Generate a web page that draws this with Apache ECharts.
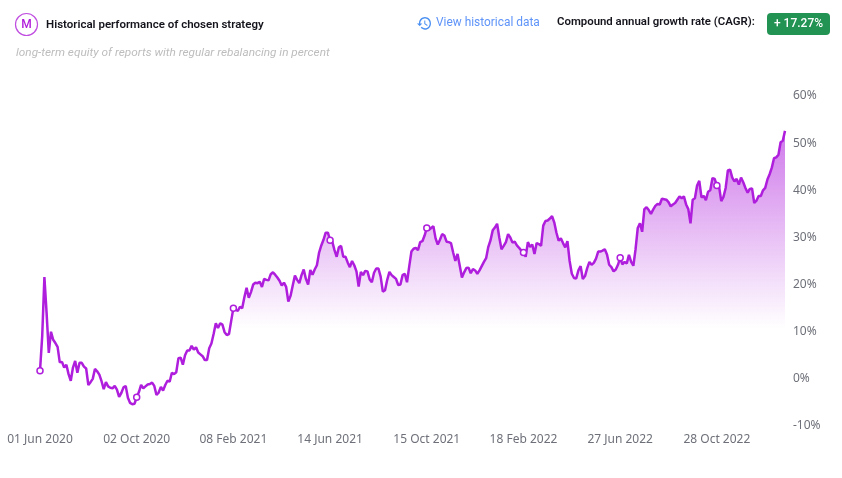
<!DOCTYPE html>
<html>
<head>
<meta charset="utf-8">
<style>
  html, body { margin: 0; padding: 0; background: #fff; }
  #chart { width: 842px; height: 478px; }
</style>
</head>
<body>
<div id="chart"></div>
<script src="https://cdn.jsdelivr.net/npm/echarts@6/dist/echarts.min.js"></script>
<script>
const tickLabels = ['01 Jun 2020', '02 Oct 2020', '08 Feb 2021', '14 Jun 2021', '15 Oct 2021', '18 Feb 2022', '27 Jun 2022', '28 Oct 2022']
const yearFirst = [
  1.7, 9, 21.6, 14, 5.5, 10, 8.3, 7.6, 6.8, 3.5, 3.6, 2.4, 3, 1, -0.4, 2.4, 3.8, 1.3, 3.4, 3.4, 2.6, 2.2,
  -1.3, -0.7, 0, 2.1, 1.6, 0.9, -0.5, -2.2, -0.7, -1.6, -1.9, -2, -1.5, -2.3, -3.8, -3, -1.8, -1.5, -4, -5.1, -5.4, -5.3,
  -3.9, -2.8, -1.3, -2, -1.6, -1.2, -1.1, -0.8, -1.5, -3.4, -2.9, -1.7, -2.5, -1.3, -0.4, -0.6, 1.3, 1, 1.4, 4.4, 4.5, 3,
  5, 6, 6, 7, 6.2, 6.7, 5.6, 5.2, 4.8, 4, 4, 6.5, 7.5, 9.5, 11.8, 10.8, 11.8, 11.5, 9.9, 9.3, 9.5, 12.3
]
const yearSecond = [
  15, 14.7, 14.4, 15.3, 15, 17.3, 19.3, 17.2, 18.4, 20, 20.4, 20.3, 20.6, 19.5, 21.2, 21, 20.9, 22.2, 22.6, 22.1, 21.5, 20.8,
  19.8, 20.4, 19.5, 16.4, 17.6, 19.8, 21.9, 21, 20.3, 22, 23.2, 21.2, 20, 23.1, 22.1, 23.2, 24.1, 26.8, 28.3, 29.5, 31, 31,
  29.4, 29.1, 27.3, 25.9, 27.9, 28.2, 25.9, 25.9, 24.7, 23.7, 25, 24.1, 22.8, 19.6, 22.7, 22, 22.9, 22.8, 21.1, 20.5, 22.5, 23.4,
  23.4, 21.7, 18.5, 18.8, 21, 22.7, 22, 21.6, 21.2, 19.9, 20, 22, 22.3, 20.5, 23.8, 27, 27.6, 27.8, 27.3, 29, 29.2, 30.4
]
const yearThird = [
  32, 31.6, 32, 32.4, 29.8, 28.5, 29.5, 30.7, 30.4, 29.1, 29, 28.8, 26.8, 25, 26.5, 24, 21.5, 22.6, 23.5, 23.6, 22.4, 23.3,
  23, 22.3, 23, 23.9, 24.8, 25.6, 28, 29.4, 31.5, 32.1, 32.9, 30, 27.5, 28.2, 29, 30.7, 30, 28.9, 29.1, 28.3, 27.8, 27.2,
  26.8, 25.9, 29, 28, 28.5, 26.5, 28.8, 28.6, 28.2, 32.5, 33.5, 33.6, 34, 34.5, 33.2, 31, 29.3, 29.8, 28.8, 27.9, 29.2, 25,
  22.3, 21.4, 21.3, 23, 23.9, 21.2, 21.8, 23.5, 24.8, 24.2, 24.6, 25.5, 27, 27, 27.2, 27.5, 26.4, 24.2, 23.7, 22.8, 23.2, 24.2
]
const yearLast = [
  25.7, 24.3, 24.8, 24.5, 26.3, 24.8, 24, 27.5, 32, 33, 31.2, 36, 36.4, 35.8, 35, 35.9, 36.7, 37.1, 37, 38.2, 38.1, 38,
  37.5, 36.6, 37, 37.3, 38, 38.7, 38.3, 38.7, 37, 36, 33, 38, 38.3, 41, 42, 38.5, 38.8, 37.9, 39.7, 40, 42.6, 42.4,
  41, 40.8, 37.7, 38.6, 40.5, 44.2, 44.4, 42.7, 41.9, 42.4, 41.2, 42.7, 41.7, 40.5, 39.5, 40.3, 40.4, 37.3, 37.8, 38.8, 38.8, 40,
  40.5, 42.3, 43.4, 44.8, 46.8, 47, 47.5, 50.2, 50.5, 52.6
]
const equity = [...yearFirst, ...yearSecond, ...yearThird, ...yearLast]

// one tick label every 44 samples
const TICK_STEP = 44
const PURPLE = '#ae1edc'
const categories = equity.map((v, i) => (i % TICK_STEP === 0 ? tickLabels[i / TICK_STEP] : ''))

const HISTORY_ICON = 'M13 3c-4.97 0-9 4.03-9 9H1l3.89 3.89.07.14L9 12H6c0-3.87 3.13-7 7-7s7 3.13 7 7-3.13 7-7 7c-1.93 0-3.68-.79-4.94-2.06l-1.42 1.42C8.27 19.99 10.51 21 13 21c4.97 0 9-4.03 9-9s-4.03-9-9-9zm-1 5v5l4.28 2.54.72-1.21-3.5-2.08V8H12z'
echarts.graphic.registerShape('historyIcon', echarts.graphic.extendPath(HISTORY_ICON, {}))

function label(x, y, text, font, fill, align) {
  return { type: 'text', x, y, style: { text, font, fill, align: align || 'left', verticalAlign: 'middle' } }
}

const chart = echarts.init(document.getElementById('chart'))
chart.setOption({
  animation: false,
  grid: { left: 40, right: 57, top: 96, bottom: 52 },
  xAxis: {
    type: 'category',
    boundaryGap: false,
    data: categories,
    axisLine: { show: false },
    axisTick: { show: false },
    splitLine: { show: false },
    axisLabel: {
      interval: TICK_STEP - 1,
      hideOverlap: false,
      margin: 8,
      fontFamily: 'Noto Sans',
      fontSize: 12,
      color: '#6e7079'
    }
  },
  yAxis: {
    type: 'value',
    position: 'right',
    min: -10,
    max: 60,
    interval: 10,
    splitLine: { show: false },
    axisLine: { show: false },
    axisTick: { show: false },
    axisLabel: { formatter: '{value}%', margin: 8, padding: [3, 0, 0, 0], fontFamily: 'Noto Sans', fontSize: 12, color: '#6e7079' }
  },
  series: [{
    type: 'line',
    data: equity,
    showAllSymbol: true,
    symbol: 'circle',
    symbolSize: (v, p) => (p.dataIndex % TICK_STEP === 0 ? 6 : 0),
    itemStyle: { color: '#fff', borderColor: PURPLE, borderWidth: 1.5 },
    lineStyle: { color: PURPLE, width: 2.5 },
    areaStyle: {
      origin: 'start',
      color: new echarts.graphic.LinearGradient(0, 0, 0, 1, [
        { offset: 0, color: 'rgba(174,30,220,0.85)' },
        { offset: 0.66, color: 'rgba(174,30,220,0.01)' },
        { offset: 0.67, color: 'rgba(174,30,220,0)' },
        { offset: 1, color: 'rgba(174,30,220,0)' }
      ])
    }
  }],
  graphic: [
    { type: 'circle', shape: { cx: 26.5, cy: 24.5, r: 11 }, style: { fill: '#fff', stroke: '#c04ee0', lineWidth: 1.2 } },
    label(26.5, 25, 'M', '500 12px Roboto', '#b01edb', 'center'),
    label(46, 25, 'Historical performance of chosen strategy', '600 11.5px Roboto', '#14141c'),
    label(16, 53, 'long-term equity of reports with regular rebalancing in percent', 'italic 11.8px Roboto', '#bdbdbd'),
    { type: 'historyIcon', x: 416.3, y: 15, scaleX: 0.667, scaleY: 0.7, style: { fill: '#4a90f2' } },
    label(436, 23, 'View historical data', '11.9px Roboto', '#5f94f8'),
    label(557, 22, 'Compound annual growth rate (CAGR):', '600 11.4px Roboto', '#14141c'),
    { type: 'rect', shape: { x: 767, y: 13, width: 63, height: 22, r: 4 }, style: { fill: '#229353' } },
    label(798.5, 24, '+ 17.27%', '500 12px Roboto', '#fff', 'center')
  ]
})
</script>
</body>
</html>
